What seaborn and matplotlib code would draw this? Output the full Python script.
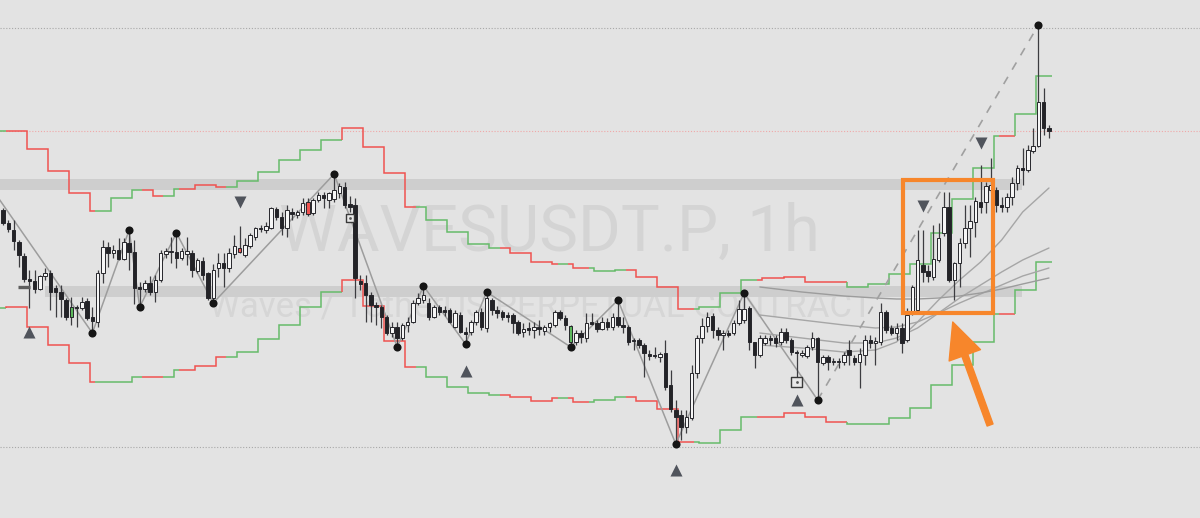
import numpy as np
import pandas as pd
import matplotlib
matplotlib.use("Agg")
import matplotlib.pyplot as plt
import seaborn as sns
from matplotlib.patches import Rectangle

# ---------------- data (hourly candles, WAVESUSDT.P) ----------------
opens = [3.08, 2.95, 2.88, 2.76, 2.62, 2.39, 2.37, 2.29, 2.42, 2.45,
         2.30, 2.26, 2.18, 2.01, 2.11, 2.10, 2.17, 2.01, 1.96, 2.45,
         2.71, 2.65, 2.68, 2.59, 2.75, 2.66, 2.31, 2.29, 2.35, 2.26,
         2.38, 2.64, 2.66, 2.66, 2.60, 2.64, 2.65, 2.47, 2.57, 2.45,
         2.20, 2.50, 2.55, 2.50, 2.64, 2.70, 2.63, 2.72, 2.81, 2.90,
         2.88, 2.90, 3.09, 3.01, 2.90, 3.06, 3.03, 3.06, 3.16, 3.05,
         3.18, 3.23, 3.18, 3.19, 3.25, 3.31, 3.14, 3.13, 2.37, 2.35,
         2.23, 2.13, 2.11, 2.01, 1.85, 1.91, 1.80, 1.93, 1.96, 2.15,
         2.18, 2.15, 2.01, 2.11, 2.08, 2.08, 1.91, 2.03, 1.86, 1.86,
         1.96, 2.06, 1.90, 2.18, 2.08, 2.06, 2.03, 2.03, 1.96, 1.86,
         1.90, 1.88, 1.91, 1.87, 1.91, 1.93, 2.06, 2.00, 1.76, 1.76,
         1.85, 1.80, 1.96, 1.95, 1.89, 1.96, 1.91, 2.01, 1.93, 1.91,
         1.78, 1.78, 1.73, 1.64, 1.63, 1.61, 1.65, 1.33, 1.08, 1.03,
         0.91, 1.00, 1.45, 1.80, 1.92, 2.02, 1.88, 1.83, 1.85, 1.85,
         1.95, 1.98, 2.10, 1.76, 1.63, 1.75, 1.80, 1.80, 1.76, 1.86,
         1.78, 1.66, 1.63, 1.62, 1.71, 1.80, 1.55, 1.61, 1.56, 1.57,
         1.56, 1.68, 1.60, 1.56, 1.63, 1.78, 1.75, 1.76, 2.06, 1.90,
         1.85, 1.90, 1.78, 2.05, 2.08, 2.53, 2.47, 2.41, 2.58, 2.85,
         3.11, 2.38, 2.55, 2.75, 2.90, 2.96, 3.16, 3.16, 3.28, 3.28,
         3.13, 3.11, 3.21, 3.35, 3.50, 3.48, 3.67, 3.72, 4.16, 3.90]
highs = [3.10, 2.98, 2.98, 2.78, 2.65, 2.48, 2.48, 2.43, 2.50, 2.48,
         2.33, 2.33, 2.20, 2.21, 2.13, 2.21, 2.20, 2.11, 2.48, 2.78,
         2.76, 2.73, 2.80, 2.80, 2.88, 2.78, 2.36, 2.38, 2.42, 2.43,
         2.68, 2.70, 2.81, 2.85, 2.70, 2.81, 2.68, 2.60, 2.61, 2.46,
         2.54, 2.65, 2.65, 2.70, 2.83, 2.92, 2.80, 2.85, 2.91, 2.93,
         2.96, 3.11, 3.11, 3.06, 3.13, 3.10, 3.08, 3.20, 3.20, 3.20,
         3.26, 3.26, 3.26, 3.44, 3.35, 3.36, 3.22, 3.20, 2.43, 2.43,
         2.26, 2.16, 2.13, 2.03, 1.96, 1.96, 1.95, 2.01, 2.18, 2.25,
         2.32, 2.20, 2.13, 2.13, 2.12, 2.10, 2.08, 2.06, 1.91, 1.98,
         2.08, 2.10, 2.26, 2.20, 2.12, 2.08, 2.06, 2.05, 1.98, 1.95,
         1.96, 1.96, 1.98, 1.93, 1.96, 2.08, 2.08, 2.03, 1.93, 1.88,
         1.88, 2.05, 2.05, 1.98, 2.01, 2.00, 2.05, 2.18, 2.01, 1.93,
         1.80, 1.80, 1.75, 1.68, 1.71, 1.66, 1.78, 1.48, 1.18, 1.08,
         1.08, 1.53, 1.83, 2.00, 2.06, 2.05, 1.91, 1.88, 1.88, 1.98,
         2.18, 2.25, 2.12, 1.76, 1.83, 1.83, 1.83, 1.83, 1.90, 1.90,
         1.80, 1.68, 1.68, 1.73, 1.86, 1.81, 1.63, 1.63, 1.60, 1.60,
         1.66, 1.78, 1.63, 1.70, 1.83, 1.83, 1.81, 2.15, 2.08, 1.93,
         1.95, 1.95, 2.10, 2.33, 2.88, 2.88, 2.53, 2.93, 2.95, 3.26,
         3.26, 2.56, 2.80, 3.13, 3.13, 3.21, 3.53, 3.36, 3.60, 3.31,
         3.21, 3.25, 3.41, 3.53, 3.70, 3.73, 3.90, 4.93, 4.30, 3.93]
lows = [2.93, 2.86, 2.68, 2.51, 2.36, 2.10, 2.25, 2.28, 2.38, 2.08,
        2.01, 2.01, 1.98, 1.93, 1.91, 2.08, 1.98, 1.85, 1.91, 2.35,
        2.51, 2.60, 2.58, 2.58, 2.48, 2.14, 2.11, 2.26, 2.23, 2.16,
        2.36, 2.60, 2.55, 2.50, 2.58, 2.53, 2.41, 2.45, 2.38, 2.18,
        2.15, 2.41, 2.31, 2.46, 2.60, 2.65, 2.61, 2.70, 2.78, 2.86,
        2.85, 2.89, 2.98, 2.83, 2.81, 2.98, 3.00, 3.03, 3.02, 3.03,
        3.16, 3.10, 3.10, 3.16, 3.20, 3.10, 3.06, 2.20, 2.28, 1.96,
        1.96, 1.93, 1.90, 1.83, 1.81, 1.71, 1.78, 1.86, 1.95, 2.13,
        2.15, 1.98, 2.00, 2.03, 2.02, 1.95, 1.90, 1.85, 1.74, 1.83,
        1.93, 1.88, 1.86, 2.03, 2.00, 1.98, 1.96, 1.85, 1.83, 1.81,
        1.83, 1.80, 1.83, 1.83, 1.86, 1.91, 1.98, 1.88, 1.71, 1.73,
        1.75, 1.76, 1.93, 1.86, 1.88, 1.88, 1.88, 1.91, 1.85, 1.73,
        1.68, 1.70, 1.41, 1.58, 1.60, 1.56, 1.28, 1.06, 0.74, 0.78,
        0.85, 0.98, 1.40, 1.75, 1.86, 1.80, 1.78, 1.68, 1.81, 1.83,
        1.93, 1.95, 1.68, 1.50, 1.61, 1.73, 1.73, 1.71, 1.73, 1.75,
        1.63, 1.38, 1.61, 1.60, 1.68, 1.18, 1.53, 1.48, 1.53, 1.50,
        1.53, 1.53, 1.53, 1.30, 1.53, 1.70, 1.53, 1.73, 1.85, 1.83,
        1.78, 1.65, 1.76, 2.03, 2.06, 2.36, 2.36, 2.38, 2.56, 2.82,
        2.36, 2.18, 2.31, 2.70, 2.61, 2.81, 3.05, 3.05, 3.26, 3.06,
        3.06, 3.06, 3.13, 3.28, 3.33, 3.46, 3.65, 3.71, 3.83, 3.80]
closes = [2.95, 2.89, 2.77, 2.63, 2.39, 2.37, 2.29, 2.42, 2.45, 2.26,
          2.26, 2.19, 2.01, 2.11, 2.10, 2.16, 2.00, 1.97, 2.45, 2.71,
          2.65, 2.68, 2.59, 2.76, 2.66, 2.30, 2.29, 2.35, 2.26, 2.38,
          2.65, 2.67, 2.67, 2.60, 2.67, 2.67, 2.48, 2.58, 2.43, 2.20,
          2.48, 2.55, 2.50, 2.65, 2.72, 2.66, 2.73, 2.83, 2.90, 2.89,
          2.92, 3.10, 3.01, 2.90, 3.08, 3.04, 3.06, 3.15, 3.04, 3.18,
          3.23, 3.20, 3.25, 3.28, 3.32, 3.13, 3.11, 2.40, 2.34, 2.23,
          2.13, 2.11, 2.01, 1.85, 1.91, 1.80, 1.93, 1.96, 2.15, 2.20,
          2.23, 2.01, 2.11, 2.06, 2.06, 1.96, 2.05, 1.86, 1.84, 1.96,
          2.06, 1.91, 2.20, 2.08, 2.05, 2.01, 2.01, 1.95, 1.85, 1.89,
          1.88, 1.91, 1.89, 1.91, 1.95, 2.06, 2.00, 1.93, 1.92, 1.85,
          1.81, 1.95, 1.94, 1.89, 1.96, 1.91, 2.01, 1.93, 1.91, 1.76,
          1.77, 1.73, 1.65, 1.62, 1.62, 1.64, 1.31, 1.09, 1.01, 0.91,
          1.01, 1.45, 1.80, 1.92, 2.01, 1.88, 1.83, 1.85, 1.83, 1.95,
          2.09, 2.09, 1.76, 1.63, 1.80, 1.80, 1.78, 1.75, 1.86, 1.78,
          1.66, 1.65, 1.65, 1.71, 1.80, 1.56, 1.61, 1.56, 1.57, 1.56,
          1.63, 1.63, 1.56, 1.64, 1.78, 1.75, 1.77, 2.06, 1.88, 1.85,
          1.90, 1.75, 2.03, 2.31, 2.58, 2.46, 2.42, 2.59, 2.80, 3.11,
          2.38, 2.55, 2.75, 2.90, 2.97, 3.17, 3.11, 3.32, 3.33, 3.13,
          3.11, 3.21, 3.35, 3.50, 3.48, 3.68, 3.72, 4.16, 3.90, 3.87]
green_bars = [13, 108]
red_bars = [45, 58]

# stepped channel (one level per 4-bar block) and trend colour runs
upper_levels = [3.87, 3.87, 3.69, 3.47, 3.25, 3.07, 3.20, 3.28, 3.22, 3.29,
                3.33, 3.31, 3.37, 3.46, 3.58, 3.68, 3.78, 3.90, 3.71, 3.45,
                3.11, 2.98, 2.86, 2.74, 2.70, 2.65, 2.56, 2.54, 2.50, 2.47,
                2.48, 2.41, 2.31, 2.09, 2.11, 2.25, 2.38, 2.40, 2.41, 2.36,
                2.36, 2.31, 2.34, 2.44, 2.54, 2.85, 3.19, 3.50, 3.82, 4.04, 4.42]
lower_levels = [2.10, 2.11, 1.91, 1.73, 1.55, 1.36, 1.36, 1.41, 1.41, 1.48,
                1.52, 1.61, 1.66, 1.79, 1.93, 2.11, 2.26, 2.38, 2.12, 1.77,
                1.51, 1.41, 1.31, 1.25, 1.23, 1.21, 1.17, 1.20, 1.16, 1.18,
                1.21, 1.17, 1.09, 0.76, 0.75, 0.88, 1.01, 1.01, 1.05, 1.01,
                0.96, 0.94, 0.94, 1.00, 1.10, 1.33, 1.53, 1.76, 2.04, 2.28, 2.56]
trend_starts = [0, 1, 18, 27, 31, 34, 43, 65, 79, 95, 106, 108, 112, 119, 132, 144, 161, 190, 193]
trend_colors = ['up', 'down', 'up', 'down', 'up', 'down', 'up', 'down', 'up', 'down',
                'up', 'down', 'up', 'down', 'up', 'down', 'up', 'down', 'up']

# zigzag pivots
zz_origin_idx = -3
zz_origin_price = 3.36
pivot_idx = [17, 24, 26, 33, 40, 63, 75, 80, 88, 92, 108, 117, 128, 141, 155, 197]
pivot_kind = ['L', 'H', 'L', 'H', 'L', 'H', 'L', 'H', 'L', 'H', 'L', 'H', 'L', 'H', 'L', 'H']

# moving averages (visible on the last bars only)
ma_idx = [144, 152, 160, 166, 170, 174, 178, 182, 186, 190, 194, 199]
ma_fast = [1.73, 1.70, 1.66, 1.68, 1.76, 1.96, 2.18, 2.38, 2.56, 2.78, 3.06, 3.30]
ma_mid1 = [1.85, 1.80, 1.75, 1.75, 1.80, 1.90, 2.05, 2.20, 2.33, 2.46, 2.58, 2.70]
ma_mid2 = [2.03, 1.98, 1.93, 1.90, 1.91, 1.96, 2.05, 2.15, 2.24, 2.33, 2.42, 2.50]
ma_slow = [2.31, 2.26, 2.22, 2.20, 2.19, 2.19, 2.20, 2.22, 2.25, 2.29, 2.34, 2.40]

# support / resistance zones
zone_low = [3.28, 2.21]
zone_high = [3.39, 2.32]
zone_start = [-0.6, 8.0]
zone_end = [193.9, 193.9]

# signal markers
sell_idx = [45, 175, 186]
sell_price = [3.16, 3.12, 3.75]
buy_idx = [5, 88, 128, 151]
buy_price = [1.86, 1.47, 0.48, 1.18]
flag_idx = [66, 151]
flag_price = [3.00, 1.36]
flag_size = [30, 60]

high_line = 4.90
last_line = 3.87
low_line = 0.71

title_main = "WAVESUSDT.P, 1h"
title_sub = "Waves / TetherUS PERPETUAL CONTRACT"

# ---------------- drawing ----------------
sns.set_theme(style="white")
plt.rcParams['font.family'] = ['Roboto', 'DejaVu Sans']

BG = '#e3e3e3'
fig = plt.figure(figsize=(12, 5.18), dpi=100)
fig.patch.set_facecolor(BG)
ax = fig.add_axes([0, 0, 1, 1])
ax.set_facecolor(BG)
ax.set_xlim(-0.571, 227.74)
ax.set_ylim(0, 5.18)
ax.axis('off')

n = len(opens)
idx = np.arange(n)
o = np.array(opens); h = np.array(highs); l = np.array(lows); c = np.array(closes)
blk = (idx + 3) // 4

# watermark
ax.text(103.9, 2.85, title_main, ha='center', va='center', fontsize=47,
        color='#d4d4d4', zorder=0.5)
ax.text(102.4, 2.11, title_sub, ha='center', va='center', fontsize=25,
        color='#d6d6d6', zorder=0.5)

# zones
for lo_, hi_, s_, e_ in zip(zone_low, zone_high, zone_start, zone_end):
    ax.fill_between([s_, e_], [lo_, lo_], [hi_, hi_], color='#cecece', lw=0, zorder=0.8)

# dotted price lines
ax.axhline(high_line, color='#a8a8a8', lw=0.8, ls=(0, (1, 1.6)), zorder=1)
ax.axhline(last_line, color='#f0a8a8', lw=0.8, ls=(0, (1, 1.6)), zorder=1)
ax.axhline(low_line, color='#a8a8a8', lw=0.8, ls=(0, (1, 1.6)), zorder=1)

# stepped channel
COLORS = {'up': '#66bb6a', 'down': '#ef5350'}
def draw_steps(levels):
    for k, s in enumerate(trend_starts):
        e = trend_starts[k + 1] if k + 1 < len(trend_starts) else n
        xs, ys = [], []
        for i in range(s, e):
            lv = levels[blk[i]]
            if i > 0 and levels[blk[i - 1]] != lv:
                xs.append(i - 0.5); ys.append(levels[blk[i - 1]])
            xs += [i - 0.5, i + 0.5]; ys += [lv, lv]
        ax.plot(xs, ys, color=COLORS[trend_colors[k]], lw=1.1, zorder=2,
                solid_joinstyle='miter', solid_capstyle='butt')
draw_steps(upper_levels)
draw_steps(lower_levels)

# moving averages
ma_df = pd.DataFrame({
    'idx': ma_idx * 4,
    'value': ma_fast + ma_mid1 + ma_mid2 + ma_slow,
    'name': ['fast'] * len(ma_idx) + ['mid1'] * len(ma_idx) + ['mid2'] * len(ma_idx) + ['slow'] * len(ma_idx),
})
sns.lineplot(data=ma_df, x='idx', y='value', hue='name', ax=ax, legend=False,
             palette={'fast': '#a6a6a6', 'mid1': '#a6a6a6', 'mid2': '#a6a6a6', 'slow': '#9c9c9c'},
             lw=1.0, zorder=2.5)

# zigzag
piv_price = [h[i] if k == 'H' else l[i] for i, k in zip(pivot_idx, pivot_kind)]
zz_x = [zz_origin_idx] + pivot_idx
zz_y = [zz_origin_price] + piv_price
sns.lineplot(x=zz_x[:-1], y=zz_y[:-1], ax=ax, color='#9d9d9d', lw=1.1, sort=False,
             estimator=None, zorder=3)
sns.lineplot(x=zz_x[-2:], y=zz_y[-2:], ax=ax, color='#a0a0a0', lw=1.2, sort=False,
             estimator=None, linestyle=(0, (5, 5)), zorder=3)

# candles
face = np.where(c >= o, '#f6f6f6', '#232327').astype(object)
for i in green_bars:
    face[i] = '#5cb85c'
for i in red_bars:
    face[i] = '#ef5350'
ax.vlines(idx, l, h, color='#3c3c40', lw=0.9, zorder=4)
bottom = np.minimum(o, c)
height = np.maximum(np.abs(c - o), 0.012)
ax.bar(idx, height, bottom=bottom, width=0.66, color=list(face), edgecolor='#26262b',
       linewidth=0.7, zorder=5)

# pivot dots
ax.scatter(pivot_idx, piv_price, s=34, color='#151515', zorder=6, linewidths=0)

# signal triangles
ax.scatter(sell_idx, sell_price, marker='v', s=75, color='#50545c', zorder=6, linewidths=0)
ax.scatter(buy_idx, buy_price, marker='^', s=75, color='#50545c', zorder=6, linewidths=0)
ax.scatter(flag_idx, flag_price, marker='s', s=flag_size, facecolor='#e9e9e9', edgecolor='#3a3a3a',
           linewidths=1.0, zorder=6)
ax.scatter(flag_idx, flag_price, marker='o', s=4, color='#555555', zorder=6.5, linewidths=0)
ax.plot([2.9, 5.1], [2.31, 2.31], color='#5e5e5e', lw=2.4, solid_capstyle='butt', zorder=4)

# orange annotation
ORANGE = '#f7862b'
ax.add_patch(Rectangle((171.2, 2.05), 17.2, 1.33, fill=False, ec=ORANGE, lw=3.0, zorder=7))
ax.annotate('', xy=(180.7, 1.96), xytext=(187.8, 0.93),
            arrowprops=dict(arrowstyle='simple,head_length=0.85,head_width=0.8,tail_width=0.15',
                            color=ORANGE, mutation_scale=30, shrinkA=0, shrinkB=0),
            zorder=7)

fig.savefig('out.png', dpi=100, facecolor=BG)
